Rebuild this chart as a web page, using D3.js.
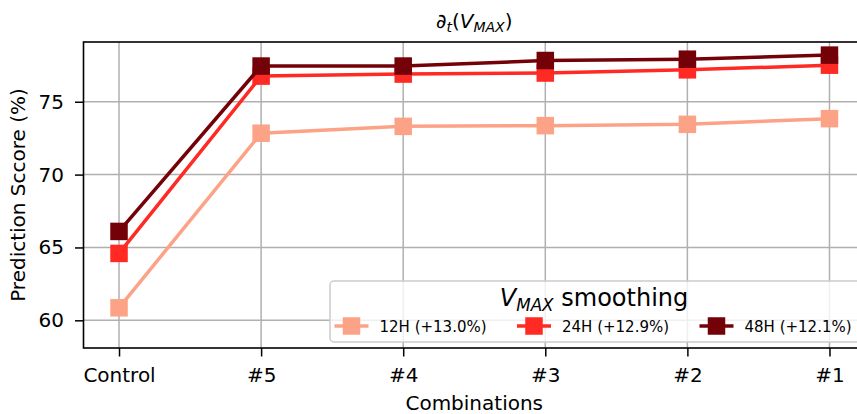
<!doctype html>
<html lang="en">
<head>
  <meta charset="utf-8">
  <title>Prediction score - D3</title>
  <style>
    body { margin: 0; background: #fff; }
    svg { display: block; font-family: "DejaVu Sans", sans-serif; }
  </style>
</head>
<body>
  <svg></svg>
  <script src="https://cdn.jsdelivr.net/npm/d3@7/dist/d3.min.js"></script>
  <script>
    const width = 857;
    const height = 414;
    const margin = { top: 42, right: -8, bottom: 66, left: 83.5 };

    // data
    const categories = ['Control', '#5', '#4', '#3', '#2', '#1'];
    const score12h = [60.86, 72.84, 73.31, 73.36, 73.45, 73.84];
    const score24h = [64.59, 76.76, 76.90, 76.97, 77.19, 77.51];
    const score48h = [66.10, 77.45, 77.45, 77.83, 77.92, 78.20];
    const seriesLabels = ['12H (+13.0%)', '24H (+12.9%)', '48H (+12.1%)'];
    const seriesColors = ['#fca387', '#ff2a23', '#740008'];
    const yTicks = [60, 65, 70, 75];

    const series = [score12h, score24h, score48h];

    const svg = d3.select('svg')
      .attr('width', width)
      .attr('height', height)
      .attr('viewBox', [0, 0, width, height]);

    const x = d3.scaleLinear()
      .domain([-0.25, categories.length - 0.75])
      .range([margin.left, width - margin.right]);

    const y = d3.scaleLinear()
      .domain([58.1, 79.1])
      .range([height - margin.bottom, margin.top]);

    // grid
    const grid = svg.append('g').attr('stroke', '#b0b0b0').attr('stroke-width', 1.5);
    grid.selectAll('.gx').data(categories).enter().append('line')
      .attr('x1', (d, i) => x(i)).attr('x2', (d, i) => x(i))
      .attr('y1', y.range()[0]).attr('y2', y.range()[1]);
    grid.selectAll('.gy').data(yTicks).enter().append('line')
      .attr('x1', x.range()[0]).attr('x2', x.range()[1])
      .attr('y1', d => y(d)).attr('y2', d => y(d));

    // axes
    const xAxis = d3.axisBottom(x)
      .tickValues(d3.range(categories.length))
      .tickFormat(i => categories[i])
      .tickSize(8.5)
      .tickPadding(11);

    svg.append('g')
      .attr('transform', 'translate(0,' + (height - margin.bottom) + ')')
      .call(xAxis)
      .call(g => g.select('.domain').remove())
      .call(g => g.selectAll('.tick line').attr('stroke', '#000').attr('stroke-width', 1.5))
      .call(g => g.selectAll('.tick text').attr('font-size', '20px').attr('fill', '#000')
        .attr('font-family', '"DejaVu Sans", sans-serif'));

    const yAxis = d3.axisLeft(y)
      .tickValues(yTicks)
      .tickSize(8.5)
      .tickPadding(11);

    svg.append('g')
      .attr('transform', 'translate(' + margin.left + ',0)')
      .call(yAxis)
      .call(g => g.select('.domain').remove())
      .call(g => g.selectAll('.tick line').attr('stroke', '#000').attr('stroke-width', 1.5))
      .call(g => g.selectAll('.tick text').attr('font-size', '20px').attr('fill', '#000')
        .attr('font-family', '"DejaVu Sans", sans-serif'));

    // spines
    svg.append('rect')
      .attr('x', x.range()[0]).attr('y', y.range()[1])
      .attr('width', x.range()[1] - x.range()[0])
      .attr('height', y.range()[0] - y.range()[1])
      .attr('fill', 'none').attr('stroke', '#000').attr('stroke-width', 1.6);

    // lines + markers
    const line = d3.line().x((d, i) => x(i)).y(d => y(d));
    const ms = 17.5;
    series.forEach((vals, k) => {
      const g = svg.append('g');
      g.append('path')
        .datum(vals)
        .attr('d', line)
        .attr('fill', 'none')
        .attr('stroke', seriesColors[k])
        .attr('stroke-width', 3.5);
      g.selectAll('rect').data(vals).enter().append('rect')
        .attr('x', (d, i) => x(i) - ms / 2)
        .attr('y', d => y(d) - ms / 2)
        .attr('width', ms).attr('height', ms)
        .attr('fill', seriesColors[k]);
    });

    // axis labels
    svg.append('text')
      .attr('x', (x.range()[0] + x.range()[1]) / 2)
      .attr('y', 410)
      .attr('text-anchor', 'middle')
      .attr('font-size', '20px')
      .text('Combinations');

    svg.append('text')
      .attr('transform', 'translate(25,' + ((y.range()[0] + y.range()[1]) / 2) + ') rotate(-90)')
      .attr('text-anchor', 'middle')
      .attr('font-size', '20px')
      .text('Prediction Sccore (%)');

    // title: ∂_t(V_MAX)
    const title = svg.append('text')
      .attr('x', (x.range()[0] + x.range()[1]) / 2)
      .attr('y', 28)
      .attr('text-anchor', 'middle')
      .attr('font-size', '20px');
    title.append('tspan').text('∂');
    title.append('tspan').attr('font-style', 'italic').attr('font-size', '14px').attr('dy', 4).text('t');
    title.append('tspan').attr('dy', -4).text('(');
    title.append('tspan').attr('font-style', 'italic').text('V');
    title.append('tspan').attr('font-style', 'italic').attr('font-size', '14px').attr('dy', 4).text('MAX');
    title.append('tspan').attr('dy', -4).text(')');

    // legend
    const legend = svg.append('g');
    legend.append('rect')
      .attr('x', 330).attr('y', 281)
      .attr('width', 530).attr('height', 61)
      .attr('rx', 4)
      .attr('fill', '#fff').attr('fill-opacity', 0.8)
      .attr('stroke', '#cccccc').attr('stroke-width', 1.5);

    const lt = legend.append('text')
      .attr('x', 594).attr('y', 306)
      .attr('text-anchor', 'middle')
      .attr('font-size', '24px');
    lt.append('tspan').attr('font-style', 'italic').text('V');
    lt.append('tspan').attr('font-style', 'italic').attr('font-size', '16.8px').attr('dy', 5).text('MAX');
    lt.append('tspan').attr('dy', -5).text(' smoothing');

    const entryX = [351.5, 534, 716.5];
    seriesLabels.forEach((lab, k) => {
      const cx = entryX[k];
      legend.append('line')
        .attr('x1', cx - 17).attr('x2', cx + 17)
        .attr('y1', 326).attr('y2', 326)
        .attr('stroke', seriesColors[k]).attr('stroke-width', 3.5);
      legend.append('rect')
        .attr('x', cx - ms / 2).attr('y', 326 - ms / 2)
        .attr('width', ms).attr('height', ms)
        .attr('fill', seriesColors[k]);
      legend.append('text')
        .attr('x', cx + 28).attr('y', 331.5)
        .attr('font-size', '15px')
        .text(lab);
    });
  </script>
</body>
</html>
